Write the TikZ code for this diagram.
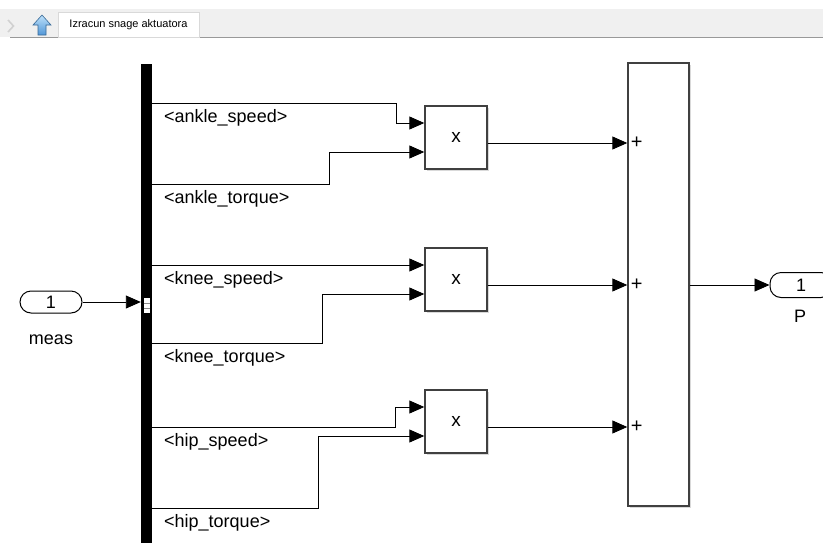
\documentclass[tikz,border=0pt]{standalone}
\usepackage{fontspec}
\setmainfont{Liberation Sans}
\usetikzlibrary{arrows.meta,positioning,calc,shadows}
\definecolor{edge_color}{RGB}{64,64,64}
\definecolor{toolbar_color}{RGB}{240,240,240}
\definecolor{icon_top_color}{RGB}{190,225,250}
\definecolor{icon_bottom_color}{RGB}{80,150,215}
\tikzset{
  product/.style={
    draw=edge_color, line width=1.4pt, fill=white,
    minimum width=62pt, minimum height=63pt, inner sep=0pt,
    drop shadow={shadow xshift=1.5pt, shadow yshift=-1.5pt, opacity=0.3},
    font=\fontsize{19}{22}\selectfont
  },
  sumblk/.style={
    draw=edge_color, line width=1.4pt, fill=white,
    minimum width=61pt, minimum height=443pt, inner sep=0pt,
    drop shadow={shadow xshift=1.5pt, shadow yshift=-1.5pt, opacity=0.3}
  },
  port/.style={
    draw=black, line width=1pt, fill=white, rounded corners=11pt,
    minimum width=62pt, minimum height=22pt, inner sep=0pt,
    font=\fontsize{18}{21}\selectfont
  },
  tab/.style={
    draw=black!15, fill=white, minimum width=141pt, minimum height=25pt,
    inner sep=0pt, font=\fontsize{11}{13}\selectfont
  },
  sigtext/.style={anchor=base west, inner sep=0pt, font=\fontsize{18}{21}\selectfont},
  plus/.style={inner sep=0pt, font=\fontsize{20}{22}\selectfont},
  siglink/.style={-{Triangle[length=15pt, width=13pt]}, line width=0.9pt},
  buslink/.style={line width=0.9pt}
}

\begin{document}
\begin{tikzpicture}[x=1pt, y=-1pt]

\clip (0,0) rectangle (823,542);

% editor tab bar
\fill[toolbar_color] (0,9) rectangle (823,37);
\draw[black!40, line width=1pt] (10,37.5) -- (823,37.5);
\draw[black!18, line width=1.6pt] (8,20) -- (13.5,26) -- (8,32);
\shade[top color=icon_top_color, bottom color=icon_bottom_color, draw=icon_bottom_color!70!black, line width=0.6pt]
  (42,15) -- (51,25) -- (46,25) -- (46,35) -- (38,35) -- (38,25) -- (33,25) -- cycle;
\node[tab] (tab) at (128.5,24.5) {Izracun snage aktuatora};

% ports and bus
\node[port] (meas) at (51,302) {1};
\node[sigtext, anchor=base] (meas_label) at (51,344) {meas};
\node[fill=black, minimum width=11pt, minimum height=500pt, inner sep=0pt] (bus) at (146.5,314) {};
\fill[white] (143.5,298) rectangle (149.5,313);
\draw[black!45, line width=0.6pt] (143.5,303.5) -- (149.5,303.5) (143.5,308.5) -- (149.5,308.5);
\draw[siglink] (meas.east) -- (meas.east -| bus.west);

% product blocks
\node[product] (prod1) at (456,137.5) {x};
\node[product] (prod2) at (456,279.5) {x};
\node[product] (prod3) at (456,421.5) {x};
\coordinate (prod1_in1) at ($(prod1.west) + (0,-14.5)$);
\coordinate (prod1_in2) at ($(prod1.west) + (0,14.5)$);
\coordinate (prod2_in1) at ($(prod2.west) + (0,-14.5)$);
\coordinate (prod2_in2) at ($(prod2.west) + (0,14.5)$);
\coordinate (prod3_in1) at ($(prod3.west) + (0,-14.5)$);
\coordinate (prod3_in2) at ($(prod3.west) + (0,14.5)$);
\coordinate (prod1_out) at ($(prod1.east) + (0,5.5)$);
\coordinate (prod2_out) at ($(prod2.east) + (0,5.5)$);
\coordinate (prod3_out) at ($(prod3.east) + (0,5.5)$);

% sum block
\node[sumblk] (sum) at (658.5,284.5) {};
\node[plus] (plus1) at ($(sum.west |- prod1_out) + (9.5,0)$) {+};
\node[plus] (plus2) at ($(sum.west |- prod2_out) + (9.5,0)$) {+};
\node[plus] (plus3) at ($(sum.west |- prod3_out) + (9.5,0)$) {+};
\node[port, minimum height=25pt] (power) at (801,285) {1};
\node[sigtext, anchor=base] (power_label) at (800,322) {P};

% bus selections
\coordinate (ankle_speed) at (152,103);
\coordinate (ankle_torque) at (152,184);
\coordinate (knee_speed) at (152,265);
\coordinate (knee_torque) at (152,343);
\coordinate (hip_speed) at (152,427);
\coordinate (hip_torque) at (152,508);
\node[sigtext] (ankle_speed_label) at ($(ankle_speed) + (12,19)$) {<ankle\_speed>};
\node[sigtext] (ankle_torque_label) at ($(ankle_torque) + (12,19)$) {<ankle\_torque>};
\node[sigtext] (knee_speed_label) at ($(knee_speed) + (12,19)$) {<knee\_speed>};
\node[sigtext] (knee_torque_label) at ($(knee_torque) + (12,19)$) {<knee\_torque>};
\node[sigtext] (hip_speed_label) at ($(hip_speed) + (12,19)$) {<hip\_speed>};
\node[sigtext] (hip_torque_label) at ($(hip_torque) + (12,19)$) {<hip\_torque>};

\draw[siglink] (ankle_speed) -| (396,123) -- (prod1_in1);
\draw[siglink] (ankle_torque) -| (329,152) -- (prod1_in2);
\draw[siglink] (knee_speed) -- (prod2_in1);
\draw[siglink] (knee_torque) -| (322,294) -- (prod2_in2);
\draw[siglink] (hip_speed) -| (395,407) -- (prod3_in1);
\draw[siglink] (hip_torque) -| (318,436) -- (prod3_in2);

\draw[siglink] (prod1_out) -- (sum.west |- prod1_out);
\draw[siglink] (prod2_out) -- (sum.west |- prod2_out);
\draw[siglink] (prod3_out) -- (sum.west |- prod3_out);
\draw[siglink] (sum.east |- power) -- (power.west);

\end{tikzpicture}
\end{document}
